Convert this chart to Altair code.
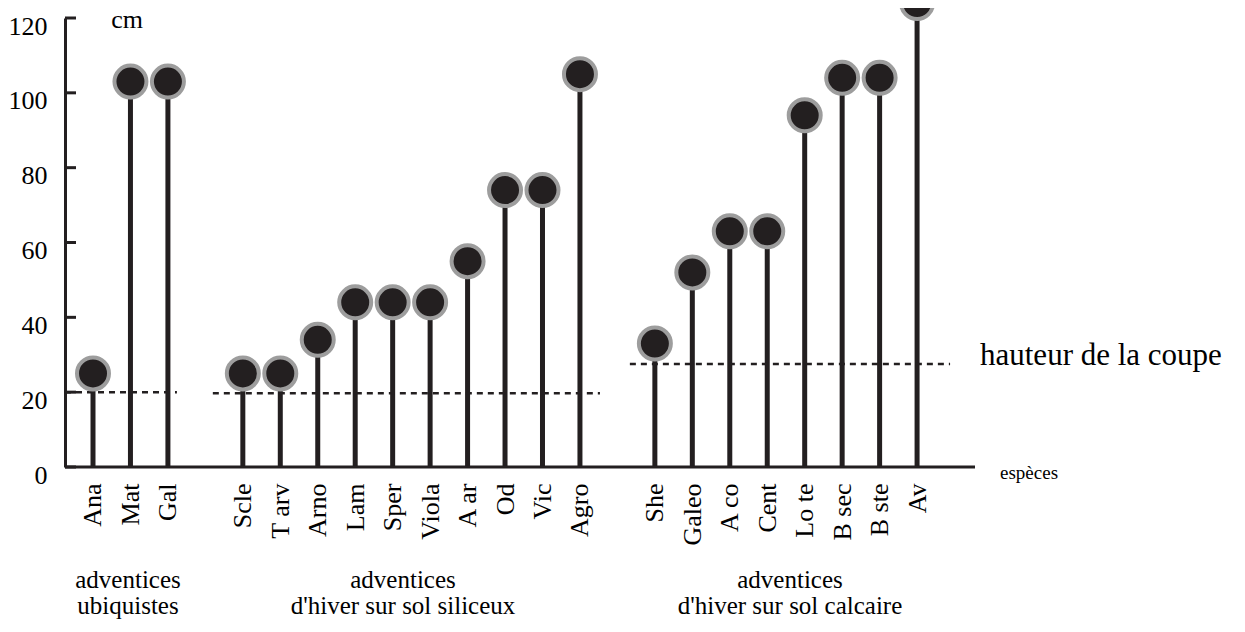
import altair as alt
import pandas as pd

species = ["Ana", "Mat", "Gal",
           "Scle", "T arv", "Arno", "Lam", "Sper", "Viola", "A ar", "Od", "Vic", "Agro",
           "She", "Galeo", "A co", "Cent", "Lo te", "B sec", "B ste", "Av"]
heights = [25, 103, 103,
           25, 25, 34, 44, 44, 44, 55, 74, 74, 105,
           33, 52, 63, 63, 94, 104, 104, 124]
groups = ["ubiquistes"] * 3 + ["siliceux"] * 10 + ["calcaire"] * 8

# order of the x axis, with two blank slots separating the groups
x_order = ["Ana", "Mat", "Gal", " ",
           "Scle", "T arv", "Arno", "Lam", "Sper", "Viola", "A ar", "Od", "Vic", "Agro", "  ",
           "She", "Galeo", "A co", "Cent", "Lo te", "B sec", "B ste", "Av"]

cut_start = ["Ana", "Scle", "She"]
cut_end = ["Gal", "Agro", "Av"]
cut_height = [20, 19.7, 27.5]

y_ticks = [0, 20, 40, 60, 80, 100, 120]

group_lines = [["adventices", "ubiquistes"],
               ["adventices", "d'hiver sur sol siliceux"],
               ["adventices", "d'hiver sur sol calcaire"]]

FONT = "Liberation Serif"
INK = "#231f20"
RING = "#9d9d9d"

df = pd.DataFrame({"species": species, "h": heights, "group": groups})
cuts = pd.DataFrame({"start": cut_start, "end": cut_end, "h": cut_height})
ticks = pd.DataFrame({"t": y_ticks})

xscale = alt.Scale(type="point", domain=x_order, range=[9.27, 870.8], padding=0.5)
yscale = alt.Scale(domain=[0, 120], nice=False)

xenc = alt.X("species:N", scale=xscale, sort=x_order,
             axis=alt.Axis(title=None, labelAngle=-90, labelAlign="right",
                           labelBaseline="middle", labelPadding=16, ticks=False,
                           labelFont=FONT, labelFontSize=26, labelColor="black",
                           domain=False))
yenc = alt.Y("h:Q", scale=yscale,
             axis=alt.Axis(title=None, values=y_ticks, ticks=False, grid=False,
                           labelFont=FONT, labelFontSize=26, labelColor="black",
                           labelPadding=18, labelOffset=8,
                           domainColor=INK, domainWidth=3))

stems = alt.Chart(df).mark_rule(color=INK, strokeWidth=5).encode(
    x=xenc, y=yenc, y2=alt.datum(0))

baseline = alt.Chart(ticks).transform_filter("datum.t == 0").mark_rule(
    color=INK, strokeWidth=3).encode(
    y=alt.Y("t:Q", scale=yscale), x=alt.value(0), x2=alt.value(910))

dots = alt.Chart(df).mark_point(filled=False, shape="circle", size=1024,
                                fill=INK, fillOpacity=1, stroke=RING,
                                strokeWidth=4, opacity=1).encode(x=xenc, y=yenc)

ytick_rules = alt.Chart(ticks).mark_rule(color=INK, strokeWidth=3).encode(
    y=alt.Y("t:Q", scale=yscale), x=alt.value(0), x2=alt.value(11))

offsets = [(-28, 9), (-30, 20), (-25, 33)]
cut_layers = []
for i, (o1, o2) in enumerate(offsets):
    cut_layers.append(
        alt.Chart(cuts.iloc[[i]]).mark_rule(color=INK, strokeWidth=2.5,
                                            strokeDash=[6, 5],
                                            xOffset=o1, x2Offset=o2).encode(
            x=alt.X("start:N", scale=xscale),
            x2="end:N",
            y=alt.Y("h:Q", scale=yscale)))

label_df = pd.DataFrame({"txt": ["hauteur de la coupe"]})
coupe = alt.Chart(label_df).mark_text(font=FONT, fontSize=31, align="left",
                                      baseline="middle", color="black").encode(
    text="txt:N", x=alt.value(915), y=alt.value(338))

cm = alt.Chart(pd.DataFrame({"txt": ["cm"]})).mark_text(
    font=FONT, fontSize=26, align="center", baseline="alphabetic", color="black").encode(
    text="txt:N", x=alt.value(62), y=alt.value(10))

esp = alt.Chart(pd.DataFrame({"txt": ["espèces"]})).mark_text(
    font=FONT, fontSize=19, align="left", baseline="middle", color="black").encode(
    text="txt:N", x=alt.value(935), y=alt.value(455))

group_layers = []
for lines, cx in zip(group_lines, [63, 338, 725]):
    group_layers.append(
        alt.Chart(pd.DataFrame({"txt": ["\n".join(lines)]})).mark_text(
            font=FONT, fontSize=25, align="center", baseline="middle",
            lineBreak="\n", lineHeight=26, color="black").encode(
            text="txt:N", x=alt.value(cx), y=alt.value(562)))

chart = alt.layer(stems, baseline, *cut_layers, dots, ytick_rules, coupe, cm, esp,
                  *group_layers).properties(
    width=910, height=449,
    background="white",
    autosize=alt.AutoSizeParams(type="none"),
    padding={"left": 57, "top": 10, "right": 262, "bottom": 157},
).configure_view(strokeWidth=0, stroke=None)

chart.save("out.html", embed_options={"renderer": "svg", "actions": False})
